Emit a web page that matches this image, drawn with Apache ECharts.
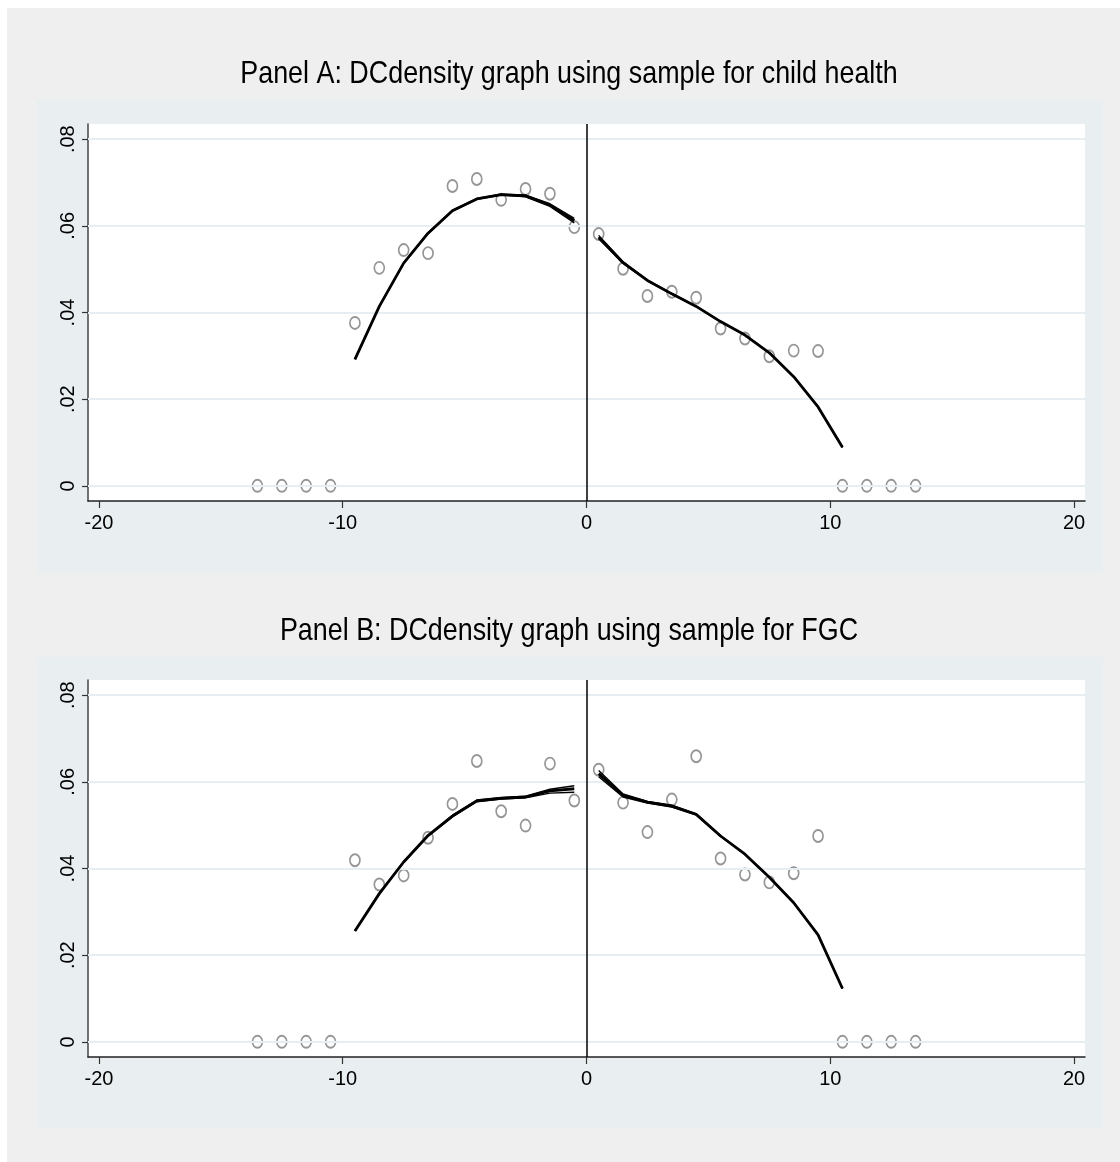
<!DOCTYPE html>
<html>
<head>
<meta charset="utf-8">
<script src="https://cdn.jsdelivr.net/npm/echarts@6/dist/echarts.min.js"></script>
<style>
html,body{margin:0;padding:0;background:#ffffff;}
#outer{position:absolute;left:7px;top:8px;width:1113px;height:1154px;background:#efefef;}
.panel{position:absolute;left:37px;width:1066px;background:#e9eff1;}
#chart{position:absolute;left:0;top:0;width:1120px;height:1162px;}
</style>
</head>
<body>
<div id="outer"></div>
<div class="panel" style="top:100px;height:473px;"></div>
<div class="panel" style="top:657px;height:471px;"></div>
<div id="chart"></div>
<script>
// ---- data ----
const titleA = "Panel A: DCdensity graph using sample for child health";
const titleB = "Panel B: DCdensity graph using sample for FGC";
const xTicks = [-20, -10, 0, 10, 20];
const yTicks = [0, 0.02, 0.04, 0.06, 0.08];
const yTickLabels = ["0", ".02", ".04", ".06", ".08"];

const binX = [-13.5,-12.5,-11.5,-10.5,-9.5,-8.5,-7.5,-6.5,-5.5,-4.5,-3.5,-2.5,-1.5,-0.5,
               0.5,1.5,2.5,3.5,4.5,5.5,6.5,7.5,8.5,9.5,10.5,11.5,12.5,13.5];
const leftX = [-9.5,-8.5,-7.5,-6.5,-5.5,-4.5,-3.5,-2.5,-1.5,-0.5];
const rightX = [0.5,1.5,2.5,3.5,4.5,5.5,6.5,7.5,8.5,9.5,10.5];

// Panel A
const pointsA = [0,0,0,0,0.0376,0.0503,0.0544,0.0537,0.0692,0.0708,0.0660,0.0685,0.0674,0.0597,
                 0.0581,0.0501,0.0438,0.0448,0.0434,0.0363,0.0340,0.0299,0.0312,0.0311,0,0,0,0];
const fitLeftA   = [0.0292,0.0414,0.0514,0.0583,0.0635,0.0662,0.0672,0.0669,0.0648,0.0612];
const hiLeftA    = [0.0292,0.0414,0.0514,0.0584,0.0636,0.0663,0.0673,0.0671,0.0651,0.0617];
const loLeftA    = [0.0292,0.0414,0.0514,0.0582,0.0634,0.0661,0.0671,0.0667,0.0645,0.0607];
const fitRightA  = [0.0574,0.0515,0.0474,0.0443,0.0414,0.0379,0.0348,0.0307,0.0252,0.0182,0.0089];
const hiRightA   = [0.0578,0.0517,0.0475,0.0444,0.0414,0.0379,0.0348,0.0307,0.0252,0.0182,0.0089];
const loRightA   = [0.0570,0.0513,0.0473,0.0442,0.0414,0.0379,0.0348,0.0307,0.0252,0.0182,0.0089];

// Panel B
const pointsB = [0,0,0,0,0.0419,0.0363,0.0384,0.0471,0.0549,0.0648,0.0532,0.0499,0.0642,0.0557,
                 0.0628,0.0552,0.0484,0.0559,0.0659,0.0423,0.0386,0.0368,0.0389,0.0475,0,0,0,0];
const fitLeftB   = [0.0256,0.0342,0.0415,0.0476,0.0521,0.0556,0.0562,0.0565,0.0579,0.0584];
const hiLeftB    = [0.0256,0.0343,0.0416,0.0477,0.0523,0.0558,0.0564,0.0567,0.0583,0.0591];
const loLeftB    = [0.0256,0.0341,0.0414,0.0475,0.0519,0.0554,0.0560,0.0563,0.0574,0.0576];
const fitRightB  = [0.0619,0.0569,0.0553,0.0544,0.0525,0.0475,0.0433,0.0380,0.0321,0.0247,0.0123];
const hiRightB   = [0.0626,0.0572,0.0555,0.0546,0.0526,0.0476,0.0433,0.0380,0.0321,0.0247,0.0123];
const loRightB   = [0.0612,0.0565,0.0551,0.0542,0.0524,0.0474,0.0433,0.0380,0.0321,0.0247,0.0123];

// ---- helpers ----
const zip = (xs, ys) => xs.map((x, i) => [x, ys[i]]);
const SANS = "'Liberation Sans',Arial,sans-serif";

function xAxisFor(gi) {
  return {
    type: 'value', gridIndex: gi, min: -20.45, max: 20.45,
    axisLine: {show: true, onZero: false, lineStyle: {color: '#222', width: 1.5}},
    axisTick: {show: true, length: 7, customValues: xTicks, lineStyle: {color: '#333', width: 1.2}},
    axisLabel: {customValues: xTicks, margin: 12, color: '#000', fontFamily: SANS, fontSize: 20,
                formatter: v => String(v)},
    splitLine: {show: false}
  };
}
function yAxisFor(gi) {
  return {
    type: 'value', gridIndex: gi, min: -0.0035, max: 0.0835,
    axisLine: {show: true, onZero: false, lineStyle: {color: '#444', width: 1.5}},
    axisTick: {show: true, length: 6, customValues: yTicks, lineStyle: {color: '#333', width: 1.2}},
    axisLabel: {customValues: yTicks, rotate: 90, margin: 10, color: '#000', fontFamily: SANS, fontSize: 20,
                formatter: v => { const i = yTicks.findIndex(t => Math.abs(t - v) < 1e-9); return i >= 0 ? yTickLabels[i] : ''; }},
    splitLine: {show: false}
  };
}
function panelSeries(gi, pts, fl, hl, ll, fr, hr, lr) {
  const lineBase = (data, w) => ({
    type: 'line', xAxisIndex: gi, yAxisIndex: gi, data: data, showSymbol: false, symbol: 'none',
    lineStyle: {color: '#000', width: w}, silent: true, animation: false, z: 5
  });
  return [
    { // gridlines + zero line
      type: 'line', xAxisIndex: gi, yAxisIndex: gi, data: [], silent: true, animation: false,
      markLine: {
        silent: true, symbol: 'none', animation: false, label: {show: false},
        data: yTicks.map(v => ({yAxis: v, lineStyle: {color: '#e6eef1', width: 2, type: 'solid'}}))
          .concat([{xAxis: 0, lineStyle: {color: '#000', width: 1.5, type: 'solid'}}])
      }, z: 1
    },
    {
      type: 'scatter', xAxisIndex: gi, yAxisIndex: gi, data: zip(binX, pts),
      symbol: 'circle', symbolSize: [10, 12],
      itemStyle: {color: 'rgba(255,255,255,0)', borderColor: '#7a7a7a', borderWidth: 1.8},
      silent: true, animation: false, z: 3
    },
    lineBase(zip(leftX, hl), 1.4), lineBase(zip(leftX, ll), 1.4), lineBase(zip(leftX, fl), 2.8),
    lineBase(zip(rightX, hr), 1.4), lineBase(zip(rightX, lr), 1.4), lineBase(zip(rightX, fr), 2.8)
  ];
}

function titleText(txt, cy) {
  return {
    type: 'text', x: 569, y: cy, scaleX: 0.84, z: 10, silent: true,
    style: {text: txt, fontFamily: SANS, fontSize: 32, fill: '#000', align: 'center', verticalAlign: 'middle'}
  };
}

const chart = echarts.init(document.getElementById('chart'), null, {renderer: 'canvas'});
chart.setOption({
  backgroundColor: 'transparent',
  animation: false,
  graphic: {elements: [titleText(titleA, 74), titleText(titleB, 631)]},
  grid: [
    {left: 88, right: 35, top: 124, height: 377, show: true, backgroundColor: '#ffffff', borderWidth: 0},
    {left: 88, right: 35, top: 680, height: 377, show: true, backgroundColor: '#ffffff', borderWidth: 0}
  ],
  xAxis: [xAxisFor(0), xAxisFor(1)],
  yAxis: [yAxisFor(0), yAxisFor(1)],
  series: panelSeries(0, pointsA, fitLeftA, hiLeftA, loLeftA, fitRightA, hiRightA, loRightA)
    .concat(panelSeries(1, pointsB, fitLeftB, hiLeftB, loLeftB, fitRightB, hiRightB, loRightB))
});
</script>
</body>
</html>
